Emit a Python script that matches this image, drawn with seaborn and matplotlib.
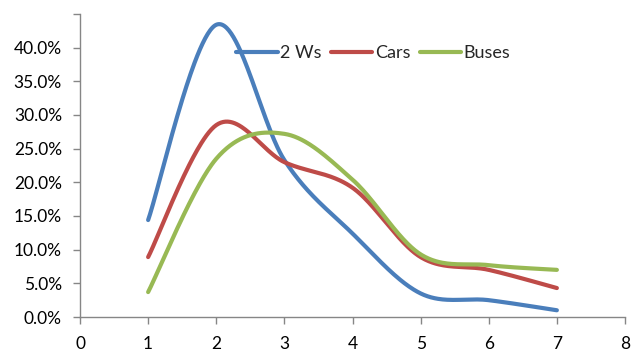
import numpy as np
import pandas as pd
import matplotlib
matplotlib.use("Agg")
import matplotlib.pyplot as plt
import seaborn as sns
from matplotlib.ticker import MultipleLocator

x_vals = [1, 2, 3, 4, 5, 6, 7]
two_ws = [14.4, 43.4, 23.3, 12.4, 3.5, 2.5, 1.0]
cars = [8.9, 28.5, 23.0, 19.2, 8.9, 7.0, 4.3]
buses = [3.7, 23.5, 27.2, 20.4, 9.3, 7.7, 7.0]
series_names = ["2 Ws", "Cars", "Buses"]
colors = ["#4a7ebb", "#be4b48", "#98b954"]
y_tick_labels = ["0.0%", "5.0%", "10.0%", "15.0%", "20.0%", "25.0%", "30.0%", "35.0%", "40.0%"]


def smooth(xs, ys, n=60):
    xs = np.asarray(xs, float)
    ys = np.asarray(ys, float)
    P = np.column_stack([xs, ys])
    ext = np.vstack([P[0], P, P[-1]])
    out = []
    for i in range(len(P) - 1):
        p0, p1, p2, p3 = ext[i], ext[i + 1], ext[i + 2], ext[i + 3]
        c1 = p1 + (p2 - p0) / 6.0
        c2 = p2 - (p3 - p1) / 6.0
        t = np.linspace(0, 1, n)[:, None]
        seg = ((1 - t) ** 3) * p1 + 3 * ((1 - t) ** 2) * t * c1 + 3 * (1 - t) * t ** 2 * c2 + t ** 3 * p2
        if i > 0:
            seg = seg[1:]
        out.append(seg)
    return np.vstack(out)


frames = []
for name, vals in zip(series_names, [two_ws, cars, buses]):
    pts = smooth(x_vals, vals)
    frames.append(pd.DataFrame({"x": pts[:, 0], "y": pts[:, 1] / 100.0, "series": name}))
df = pd.concat(frames, ignore_index=True)

sns.set_theme(style="white")
plt.rcParams["font.family"] = ["Lato", "DejaVu Sans"]

fig = plt.figure(figsize=(6.31, 3.52), dpi=100)
ax = fig.add_axes([80 / 631, 35 / 352, 545 / 631, 303 / 352])

sns.lineplot(data=df, x="x", y="y", hue="series", hue_order=series_names,
             palette=colors, sort=False, estimator=None, linewidth=3.0, ax=ax)
for line in ax.get_lines():
    line.set_solid_capstyle("round")

ax.set_xlim(0, 8)
ax.set_ylim(0, 0.45)
ax.xaxis.set_major_locator(MultipleLocator(1))
ax.set_yticks([i * 0.05 for i in range(9)] + [0.45])
ax.set_yticklabels(y_tick_labels + [""])
ax.set_xlabel("")
ax.set_ylabel("")
for s in ["top", "right"]:
    ax.spines[s].set_visible(False)
for s in ["left", "bottom"]:
    ax.spines[s].set_color("#868686")
    ax.spines[s].set_linewidth(1.0)
ax.tick_params(axis="both", which="major", direction="out", length=5, width=1.0,
               color="#868686", labelsize=12.5, labelcolor="#000000", left=True, bottom=True)
ax.tick_params(axis="y", pad=8)
ax.tick_params(axis="x", pad=9)

leg = ax.legend(loc="center left", bbox_to_anchor=(236 / 631, 299 / 352),
                bbox_transform=fig.transFigure, ncol=3, frameon=False,
                handlelength=2.3, handletextpad=0.15, columnspacing=0.5,
                fontsize=13, borderaxespad=0, borderpad=0)
for h in leg.get_lines():
    h.set_linewidth(3.0)

fig.savefig("out.png", dpi=100)
